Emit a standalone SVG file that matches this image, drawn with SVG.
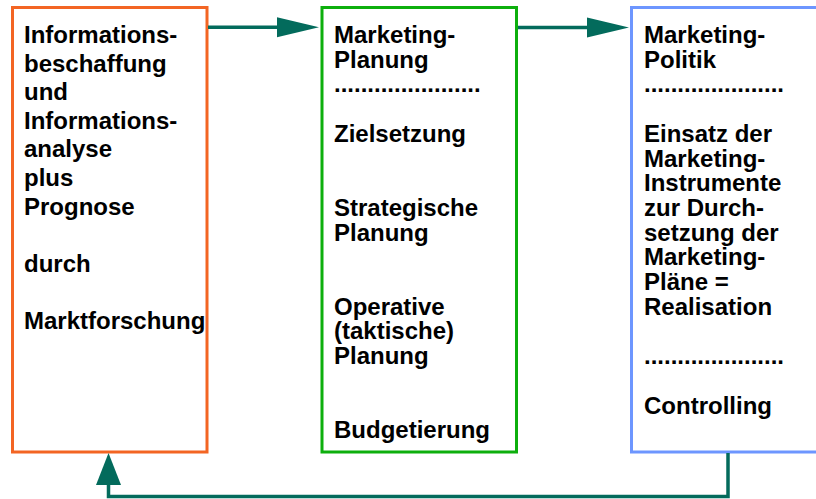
<svg xmlns="http://www.w3.org/2000/svg" width="816" height="499" viewBox="0 0 816 499">
<style>
.box{fill:#ffffff;stroke-width:3}
.t{font-family:"Liberation Sans",Arial,Helvetica,sans-serif;font-weight:bold;font-size:24px;fill:#000000}
.con{fill:none;stroke:#036b5c;stroke-width:3.5}
.head{fill:#036b5c}
</style>
<rect x="0" y="0" width="816" height="499" fill="#ffffff"/>
<g id="node-info">
<rect class="box" x="12.5" y="7.5" width="194.5" height="444.5" stroke="#f36523"/>
<text class="t" x="24">
<tspan x="24" y="43">Informations-</tspan>
<tspan x="24" y="71.6">beschaffung</tspan>
<tspan x="24" y="100.2">und</tspan>
<tspan x="24" y="128.8">Informations-</tspan>
<tspan x="24" y="157.4">analyse</tspan>
<tspan x="24" y="186">plus</tspan>
<tspan x="24" y="214.6">Prognose</tspan>
<tspan x="24" y="271.8">durch</tspan>
<tspan x="24" y="329">Marktforschung</tspan>
</text>
</g>
<g id="node-planung">
<rect class="box" x="322" y="7.5" width="194.5" height="444.5" stroke="#0daf0d"/>
<text class="t">
<tspan x="334" y="43">Marketing-</tspan>
<tspan x="334" y="67.7">Planung</tspan>
<tspan x="334" y="92.4">......................</tspan>
<tspan x="334" y="141.8">Zielsetzung</tspan>
<tspan x="334" y="215.9">Strategische</tspan>
<tspan x="334" y="240.6">Planung</tspan>
<tspan x="334" y="314.7">Operative</tspan>
<tspan x="334" y="339.4">(taktische)</tspan>
<tspan x="334" y="364.1">Planung</tspan>
<tspan x="334" y="438.2">Budgetierung</tspan>
</text>
</g>
<g id="node-politik">
<rect class="box" x="631.5" y="7.5" width="200" height="444.5" stroke="#6d96ff"/>
<text class="t">
<tspan x="644" y="43">Marketing-</tspan>
<tspan x="644" y="67.7">Politik</tspan>
<tspan x="644" y="92.4">.....................</tspan>
<tspan x="644" y="141.8">Einsatz der</tspan>
<tspan x="644" y="166.5">Marketing-</tspan>
<tspan x="644" y="191.2">Instrumente</tspan>
<tspan x="644" y="215.9">zur Durch-</tspan>
<tspan x="644" y="240.6">setzung der</tspan>
<tspan x="644" y="265.3">Marketing-</tspan>
<tspan x="644" y="290">Pläne =</tspan>
<tspan x="644" y="314.7">Realisation</tspan>
<tspan x="644" y="364.1">.....................</tspan>
<tspan x="644" y="413.5">Controlling</tspan>
</text>
</g>
<g id="connectors">
<line class="con" x1="208" y1="27.3" x2="279" y2="27.3"/>
<polygon class="head" points="277,17.3 319,27.3 277,37.3"/>
<line class="con" x1="518" y1="27.6" x2="589" y2="27.6"/>
<polygon class="head" points="587,17.5 629,27.5 587,37.5"/>
<polyline class="con" points="728,453 728,496.5 108.5,496.5 108.5,483"/>
<polygon class="head" points="96,485 108.5,453 121,485"/>
</g>
</svg>
